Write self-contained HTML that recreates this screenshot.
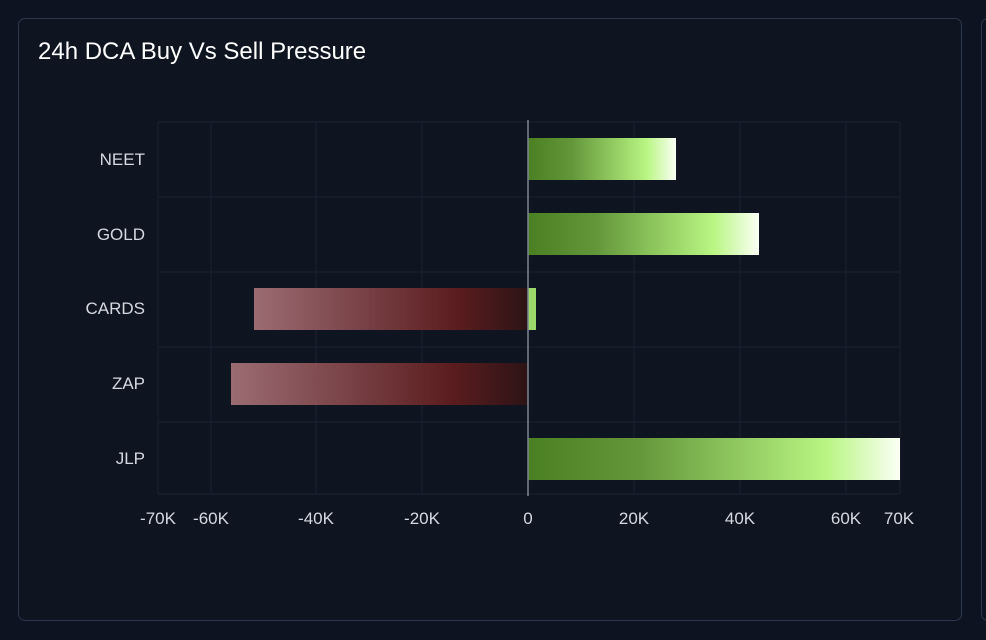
<!DOCTYPE html>
<html><head><meta charset="utf-8"><style>
html,body{margin:0;padding:0;background:#0d1320;width:986px;height:640px;overflow:hidden}
.card{position:absolute;left:18px;top:18px;width:944px;height:603px;border:1px solid #2a374d;border-radius:7px;background:#0e1521;box-sizing:border-box}
.card2{position:absolute;left:981px;top:18px;width:40px;height:603px;border:1px solid #2a374d;border-radius:7px;box-sizing:border-box}
.title{position:absolute;left:38px;top:38px;color:#fff;font:500 24px "Liberation Sans",sans-serif;letter-spacing:0}
svg{position:absolute;left:0;top:0}
</style></head><body>
<div class="card"></div><div class="card2"></div>
<div class="title">24h DCA Buy Vs Sell Pressure</div>
<svg width="986" height="640" font-family="Liberation Sans, sans-serif" font-size="17" fill="#d5d9e0">
<defs>
<linearGradient id="g" x1="0" x2="1" y1="0" y2="0">
<stop offset="0" stop-color="#4a7f22"/><stop offset="0.3" stop-color="#64973a"/><stop offset="0.8" stop-color="#b8f582"/><stop offset="1" stop-color="#fbfff5"/></linearGradient>
<linearGradient id="r" x1="0" x2="1" y1="0" y2="0">
<stop offset="0" stop-color="#9a6c72"/><stop offset="0.45" stop-color="#743c40"/><stop offset="0.75" stop-color="#5a1c1e"/><stop offset="1" stop-color="#2c1416"/></linearGradient>
</defs>
<g stroke="#1a2234" stroke-width="1">
<line x1="158" y1="122" x2="900" y2="122"/><line x1="158" y1="197" x2="900" y2="197"/><line x1="158" y1="272" x2="900" y2="272"/><line x1="158" y1="347" x2="900" y2="347"/><line x1="158" y1="422" x2="900" y2="422"/><line x1="158" y1="494" x2="900" y2="494"/>
<line x1="158" y1="122" x2="158" y2="494"/><line x1="211" y1="122" x2="211" y2="494"/><line x1="316" y1="122" x2="316" y2="494"/><line x1="422" y1="122" x2="422" y2="494"/><line x1="634" y1="122" x2="634" y2="494"/><line x1="740" y1="122" x2="740" y2="494"/><line x1="846" y1="122" x2="846" y2="494"/><line x1="900" y1="122" x2="900" y2="494"/>
</g>
<rect x="528" y="138" width="148" height="42" fill="url(#g)"/>
<rect x="528" y="213" width="231" height="42" fill="url(#g)"/>
<rect x="254" y="288" width="274" height="42" fill="url(#r)"/>
<rect x="528" y="288" width="8" height="42" fill="#9ad86a"/>
<rect x="231" y="363" width="297" height="42" fill="url(#r)"/>
<rect x="528" y="438" width="372" height="42" fill="url(#g)"/>
<line x1="528" y1="120" x2="528" y2="496" stroke="#7d8594" stroke-width="1.5"/>
<g text-anchor="end">
<text x="145" y="165">NEET</text><text x="145" y="240">GOLD</text><text x="145" y="314">CARDS</text><text x="145" y="389">ZAP</text><text x="145" y="464">JLP</text>
</g>
<g text-anchor="middle">
<text x="158" y="524">-70K</text><text x="211" y="524">-60K</text><text x="316" y="524">-40K</text><text x="422" y="524">-20K</text><text x="528" y="524">0</text><text x="634" y="524">20K</text><text x="740" y="524">40K</text><text x="846" y="524">60K</text><text x="899" y="524">70K</text>
</g>
</svg>
</body></html>
